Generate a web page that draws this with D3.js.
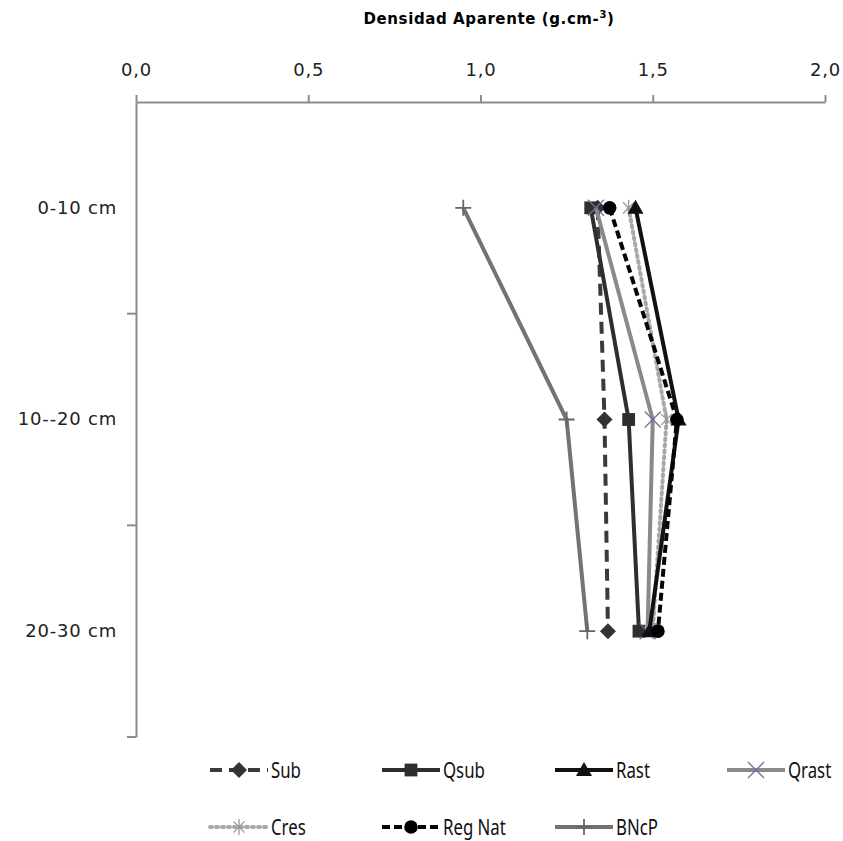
<!DOCTYPE html>
<html>
<head>
<meta charset="utf-8">
<script src="https://cdn.jsdelivr.net/npm/d3@7"></script>
<style>
  body { margin: 0; background: #fff; }
  .tick text { font-family: "DejaVu Sans", Verdana, sans-serif; }
</style>
</head>
<body>
<div class="chart"></div>
<script>
// Datos: densidad aparente por profundidad
const depths = ['0-10 cm', '10--20 cm', '20-30 cm'];
const xTicks = [0, 0.5, 1.0, 1.5, 2.0];

const sub    = [1.34, 1.36, 1.37];
const qsub   = [1.32, 1.43, 1.46];
const rast   = [1.45, 1.575, 1.49];
const qrast  = [1.335, 1.50, 1.485];
const cres   = [1.43, 1.54, 1.50];
const regNat = [1.375, 1.57, 1.515];
const bncp   = [0.95, 1.25, 1.31];

const seriesNames = ['Sub', 'Qsub', 'Rast', 'Qrast', 'Cres', 'Reg Nat', 'BNcP'];
const seriesValues = [sub, qsub, rast, qrast, cres, regNat, bncp];

// estilo de cada serie
const styles = {
  'Sub':     { color: '#3a3a3a', dash: '12,7', marker: 'diamond', mcolor: '#333' },
  'Qsub':    { color: '#2e2e2e', dash: null, marker: 'square', mcolor: '#2e2e2e' },
  'Rast':    { color: '#111', dash: null, marker: 'triangle', mcolor: '#111' },
  'Qrast':   { color: '#8a8a8a', dash: null, marker: 'x', mcolor: '#7b6a9e' },
  'Cres':    { color: '#a8a8a8', dash: '2,4', marker: 'star', mcolor: '#999' },
  'Reg Nat': { color: '#050505', dash: '8,4', marker: 'circle', mcolor: '#000' },
  'BNcP':    { color: '#737373', dash: null, marker: 'plus', mcolor: '#666' }
};

const width = 843, height = 841;
const margin = { top: 102, left: 136, right: 18, bottom: 104 };

const svg = d3.select('.chart').append('svg')
  .attr('width', width).attr('height', height);

const x = d3.scaleLinear([0, 2], [margin.left, width - margin.right]);
const y = d3.scaleBand().domain(depths).range([margin.top, height - margin.bottom]).padding(0);

// titulo
const title = svg.append('text')
  .attr('x', 489).attr('y', 24)
  .attr('text-anchor', 'middle')
  .style('font-family', '"DejaVu Sans", Verdana, sans-serif')
  .style('font-weight', 'bold').style('font-size', '15px')
  .style('letter-spacing', '0.6px');
title.append('tspan').text('Densidad Aparente (g.cm-');
title.append('tspan').attr('dy', -6).style('font-size', '10px').text('3');
title.append('tspan').attr('dy', 6).text(')');

// eje X (arriba)
const xAxis = d3.axisTop(x).tickValues(xTicks)
  .tickFormat(d => d3.format('.1f')(d).replace('.', ','))
  .tickSizeInner(7).tickSizeOuter(0).tickPadding(19);
const gx = svg.append('g').attr('transform', `translate(0,${margin.top})`).call(xAxis);
gx.select('.domain').attr('stroke', '#8c8c8c').attr('stroke-width', 2);
gx.selectAll('.tick line').attr('stroke', '#8c8c8c').attr('stroke-width', 2);
gx.selectAll('.tick text').style('font-size', '18px').style('letter-spacing', '0.8px').attr('fill', '#222');

// eje Y
const gy = svg.append('g').attr('transform', `translate(${margin.left},0)`)
  .call(d3.axisLeft(y).tickSize(0).tickPadding(19));
gy.select('.domain').attr('stroke', '#8c8c8c').attr('stroke-width', 2);
gy.selectAll('.tick text').style('font-size', '18px').style('letter-spacing', '0.8px').attr('fill', '#222');
// marcas entre categorias
const edges = depths.slice(1).map(d => y(d)).concat([y.range()[1]]);
gy.selectAll('.edge').data(edges).join('line')
  .attr('x1', -9).attr('x2', 0)
  .attr('y1', d => d).attr('y2', d => d)
  .attr('stroke', '#8c8c8c').attr('stroke-width', 2);

const yc = d => y(d) + y.bandwidth() / 2;

function drawMarker(g, type, color, s) {
  if (type === 'diamond') {
    g.append('path').attr('d', `M0,${-s}L${s},0L0,${s}L${-s},0Z`).attr('fill', color);
  } else if (type === 'square') {
    g.append('rect').attr('x', -s * 0.8).attr('y', -s * 0.8)
      .attr('width', s * 1.6).attr('height', s * 1.6).attr('fill', color);
  } else if (type === 'triangle') {
    g.append('path').attr('d', `M0,${-s}L${s},${s * 0.75}L${-s},${s * 0.75}Z`).attr('fill', color);
  } else if (type === 'circle') {
    g.append('circle').attr('r', s * 0.85).attr('fill', color);
  } else if (type === 'x') {
    g.append('path').attr('d', `M${-s},${-s}L${s},${s}M${-s},${s}L${s},${-s}`)
      .attr('stroke', color).attr('stroke-width', 1.3);
  } else if (type === 'star') {
    g.append('path').attr('d', `M${-s * 0.7},${-s * 0.7}L${s * 0.7},${s * 0.7}M${-s * 0.7},${s * 0.7}L${s * 0.7},${-s * 0.7}M0,${-s}L0,${s}`)
      .attr('stroke', color).attr('stroke-width', 1.3);
  } else if (type === 'plus') {
    g.append('path').attr('d', `M${-s},0L${s},0M0,${-s}L0,${s}`)
      .attr('stroke', color).attr('stroke-width', 1.8);
  }
}

// lineas
const line = d3.line().x(d => x(d.v)).y(d => yc(d.c));
const plot = svg.append('g');
const drawOrder = [6, 0, 1, 3, 4, 2, 5];
drawOrder.forEach(i => {
  const name = seriesNames[i];
  const st = styles[name];
  const pts = depths.map((c, j) => ({ c: c, v: seriesValues[i][j] }));
  plot.append('path').datum(pts)
    .attr('d', line).attr('fill', 'none')
    .attr('stroke', st.color).attr('stroke-width', 4)
    .attr('stroke-dasharray', st.dash)
    .attr('stroke-linecap', st.marker === 'star' ? 'round' : 'butt');
  pts.forEach(p => {
    const g = plot.append('g').attr('transform', `translate(${x(p.v)},${yc(p.c)})`);
    drawMarker(g, st.marker, st.mcolor, 8);
  });
});

// leyenda
const legX = [210, 382, 555, 727];
const legY = [770, 827];
const legend = svg.append('g');
seriesNames.forEach((name, i) => {
  const st = styles[name];
  const lx = legX[i % 4], ly = legY[Math.floor(i / 4)];
  const g = legend.append('g').attr('transform', `translate(${lx},${ly})`);
  g.append('line').attr('x1', 0).attr('x2', 58).attr('y1', 0).attr('y2', 0)
    .attr('stroke', st.color).attr('stroke-width', 4)
    .attr('stroke-dasharray', st.dash)
    .attr('stroke-linecap', st.marker === 'star' ? 'round' : 'butt');
  const m = g.append('g').attr('transform', 'translate(29,0)');
  drawMarker(m, st.marker, st.mcolor, 8);
  g.append('text').attr('transform', 'translate(61,8) scale(0.8,1)')
    .style('font-family', '"Noto Sans", "Open Sans", sans-serif')
    .style('font-size', '21px').attr('fill', '#111')
    .text(name);
});
</script>
</body>
</html>
